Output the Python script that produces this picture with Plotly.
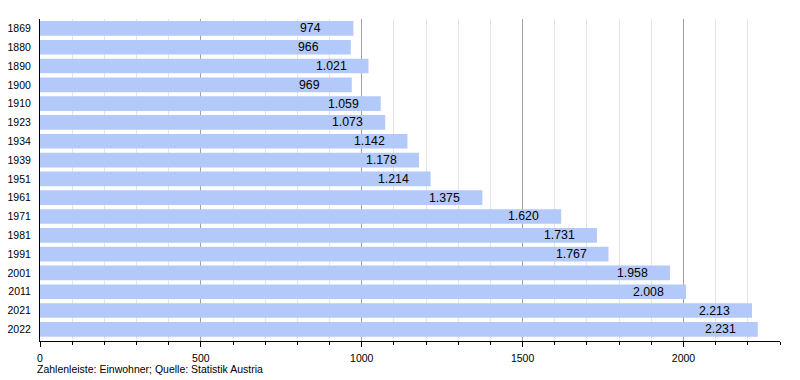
import plotly.graph_objects as go

years = ["1869", "1880", "1890", "1900", "1910", "1923", "1934", "1939", "1951", "1961",
         "1971", "1981", "1991", "2001", "2011", "2021", "2022"]
population = [974, 966, 1021, 969, 1059, 1073, 1142, 1178, 1214, 1375,
              1620, 1731, 1767, 1958, 2008, 2213, 2231]
caption = "Zahlenleiste: Einwohner; Quelle: Statistik Austria"

FONT = "Liberation Sans, Arial, Helvetica, sans-serif"


def fmt(v):
    return f"{v:,}".replace(",", ".")


labels = [fmt(v) for v in population]

fig = go.Figure(go.Bar(
    x=population,
    y=years,
    orientation="h",
    marker=dict(color="#b3c9fa", line=dict(width=0)),
    hoverinfo="skip",
))

annotations = []
for i, (v, lab) in enumerate(zip(population, labels)):
    annotations.append(dict(
        x=v, y=i, xref="x", yref="y", text=lab, showarrow=False,
        xanchor="right", yanchor="middle",
        xshift=-20 if len(lab) > 3 else -30,
        font=dict(family=FONT, size=12.3, color="#000000"),
    ))

annotations.append(dict(
    text=caption, xref="paper", yref="paper",
    x=-0.0065, y=-(368.5 - 341) / 322, xanchor="left", yanchor="middle",
    showarrow=False, font=dict(family=FONT, size=10.5, color="black"),
))

fig.update_layout(
    width=800, height=380,
    margin=dict(l=40, r=20, t=19, b=39),
    paper_bgcolor="white", plot_bgcolor="white",
    bargap=0.22,
    showlegend=False,
    font=dict(family=FONT, size=10.5, color="black"),
    xaxis=dict(
        range=[0, 2300], dtick=500, tick0=0,
        showline=True, linecolor="black", linewidth=1,
        ticks="outside", ticklen=5, tickcolor="black",
        showgrid=True, gridcolor="#a0a0a0", gridwidth=1,
        zeroline=False, automargin=False,
        tickfont=dict(size=10.5),
        ticklabelstandoff=2,
        minor=dict(dtick=100, showgrid=True, gridcolor="#e4e4e4", ticks="outside",
                   ticklen=3, tickcolor="black"),
    ),
    yaxis=dict(
        type="category",
        range=[16.62, -0.5],
        showline=True, linecolor="black", linewidth=1,
        ticks="", showgrid=False, automargin=False,
        tickfont=dict(size=10.5),
        ticklabelstandoff=6,
    ),
    annotations=annotations,
)

fig.write_html("out.html", post_script="document.body.style.margin='0';",
               config={"displayModeBar": False})
